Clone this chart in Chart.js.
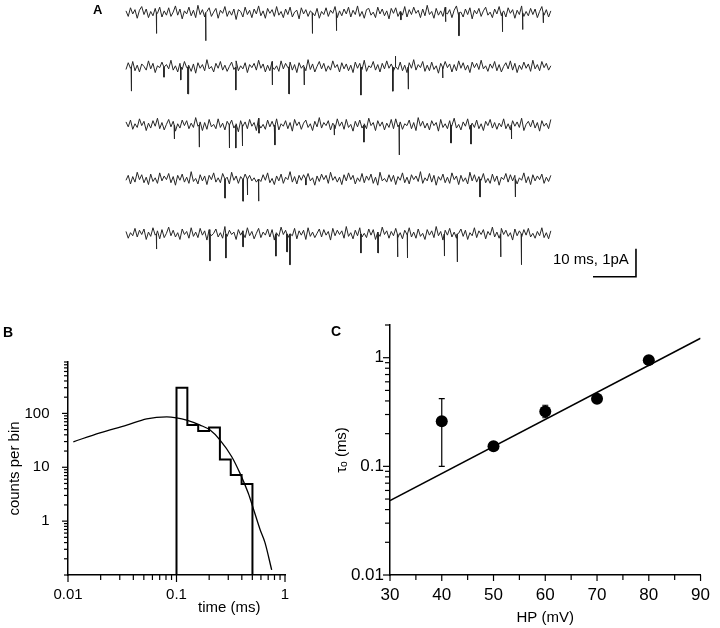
<!DOCTYPE html>
<html><head><meta charset="utf-8">
<script src="https://cdn.jsdelivr.net/npm/chart.js@4.4.1/dist/chart.umd.min.js"></script>
<style>
html,body{margin:0;padding:0;background:#fff;}
#wrap{position:relative;width:720px;height:628px;overflow:hidden;font-family:"Liberation Sans",Arial,sans-serif;color:#000;}
canvas{position:absolute;}
.lbl{position:absolute;white-space:nowrap;}
.pl{font-weight:bold;font-size:14px;line-height:14px;}
</style></head><body>
<div id="wrap">
<canvas id="cA" width="720" height="290" style="left:0;top:0;width:720px;height:290px"></canvas>
<canvas id="cB" width="330" height="328" style="left:0;top:300px;width:330px;height:328px"></canvas>
<canvas id="cC" width="390" height="328" style="left:330px;top:300px;width:390px;height:328px"></canvas>
<div class="lbl pl" style="left:93px;top:3px;font-size:13px">A</div>
<div class="lbl pl" style="left:3px;top:325px">B</div>
<div class="lbl pl" style="left:331px;top:324px">C</div>
<div class="lbl" style="left:553px;top:250px;font-size:15px;line-height:18px">10 ms, 1pA</div>
<div class="lbl" style="left:198px;top:598px;font-size:15px;line-height:18px">time (ms)</div>
</div>
<script>
// ---------------- Panel A data (single-channel traces) ----------------
const traceDurationMs = 98.8;
const noiseUnitPA = 0.022;           // noise values below are in units of 0.022 pA
const openDurMs = 0.1;               // width of each idealised opening
const traceOffsetsPA = [0, -1.94, -4.01, -5.94, -7.90];
const noise1 = [3,-6,8,-2,5,-9,4,10,-3,6,-8,2,-5,7,-1,9,-7,3,-4,8,
-6,1,11,-4,6,-10,3,-2,9,-5,4,-8,12,-3,5,-7,2,8,-6,1,
7,-9,4,-1,10,-6,3,-4,6,-11,5,2,-7,9,-3,4,-8,6,-2,11,
-5,3,-9,7,-1,5,-6,10,-4,2,-8,6,-3,9,-7,1,4,-10,8,-2,
5,-6,3,12,-5,7,-9,2,-3,8,-6,4,-1,10,-8,3,-5,6,-2,9,
-7,4,-3,11,-6,2,-9,5,7,-4,1,-8,9,-2,6,-5,3,-10,7,-1,
8,-6,2,-4,10,-7,5,-3,9,-1,4,-8,6,-5,12,-3,2,-9,7,-4,
3,-6,9,-2,5,-8,4,11,-5,1,-7,6,-3,8,-10,4,-2,7,-6,3,
9,-4,1,-8,6,-2,10,-5,3,-7,8,-1,5,-9,4,-3,11,-6,2,-5,
7,-3,6,-8,2,10,-4,5,-7,3];
const noise2 = [-4,7,-2,9,-6,3,-8,5,1,-5,10,-3,6,-9,2,-1,8,-7,4,-3,
11,-5,2,-8,6,-4,9,-1,3,-7,5,-10,7,-2,4,-6,12,-3,1,-8,
6,-2,9,-5,3,-7,1,8,-4,10,-6,2,-3,7,-9,4,-1,6,-5,11,
-2,5,-8,3,-6,9,-4,2,-7,10,-3,6,-1,8,-5,4,-9,7,-2,3,
-6,12,-4,5,-8,1,9,-3,6,-7,2,-5,10,-1,4,-8,7,-3,5,-6,
3,-9,8,-2,6,-4,11,-7,2,-1,9,-5,4,-8,6,-3,10,-2,5,-7,
1,-4,8,-6,3,-9,7,-2,12,-5,4,-1,9,-7,3,-6,8,-4,2,-10,
6,-3,9,-1,5,-8,4,-6,10,-2,7,-5,3,-9,8,-1,6,-4,11,-3,
2,-7,5,-2,9,-6,4,-8,1,7,-3,10,-5,6,-9,3,-4,8,-2,5,
-7,11,-3,4,-6,9,-1,6,-5,2];
const noise3 = [5,-3,8,-7,2,-4,10,-1,6,-9,3,-5,7,-2,11,-6,4,-8,1,9,
-3,6,-10,2,-5,8,-1,7,-6,3,-4,12,-2,5,-9,4,-7,9,-3,1,
-6,10,-4,3,-8,6,-1,8,-5,2,-11,7,-3,5,-6,9,-2,4,-9,11,
-5,1,-7,8,-3,6,-4,10,-8,2,-2,7,-6,4,-10,9,-1,5,-7,3,
8,-4,2,-9,6,-3,12,-5,4,-1,7,-8,3,-6,10,-2,5,-7,9,-4,
1,-10,6,-3,8,-5,2,-6,11,-1,4,-9,7,-2,5,-8,3,-4,9,-6,
10,-3,5,-7,2,-1,8,-6,4,-9,12,-2,6,-5,3,-8,7,-1,4,-10,
9,-4,2,-6,7,-3,11,-5,1,-8,5,-2,10,-7,3,-4,8,-6,2,-9,
6,-1,9,-5,4,-7,3,-3,10,-6,2,-8,7,-2,5,-4,11,-9,1,6,
-3,8,-5,4,-10,7,-2,3,-6,9];
const noise4 = [-2,6,-8,4,-5,11,-1,7,-6,3,-9,8,-4,2,-7,10,-3,5,-1,9,
-6,4,-10,6,-2,8,-5,3,-7,12,-4,1,-8,7,-3,5,-9,6,-1,10,
-5,2,-6,9,-4,3,-8,11,-2,5,-7,4,-1,8,-10,6,-3,2,-5,9,
-4,7,-2,10,-6,1,-9,5,-3,8,-7,3,-1,12,-5,4,-8,6,-2,7,
-6,9,-3,2,-10,5,-4,8,-1,6,-7,11,-2,4,-5,3,-9,7,-3,10,
-1,6,-8,2,-4,9,-6,5,-2,8,-7,3,-10,11,-3,1,-5,7,-4,6,
-9,4,-2,10,-6,3,-8,7,-1,5,-4,12,-7,2,-3,9,-5,6,-10,4,
-2,8,-6,3,-7,10,-1,5,-9,6,-4,2,-8,11,-3,7,-5,4,-2,9,
-6,1,-7,8,-4,5,-10,3,-1,9,-5,7,-3,6,-8,2,-2,10,-6,4,
-9,7,-3,5,-1,8,-7,3,-4,6];
const noise5 = [4,-7,2,-3,9,-5,6,-1,8,-9,3,-4,10,-2,5,-8,7,-6,1,11,
-3,6,-5,2,-9,8,-1,4,-7,10,-4,3,-6,9,-2,5,-10,7,-3,1,
8,-5,2,-7,12,-4,6,-1,3,-9,7,-2,5,-6,10,-3,4,-8,1,9,
-6,3,-2,8,-5,7,-10,2,-4,11,-1,6,-7,4,-3,9,-8,5,-2,6,
-9,10,-4,3,-6,1,8,-5,7,-2,4,-10,9,-3,6,-1,5,-7,12,-4,
2,-8,6,-3,10,-5,1,-6,8,-2,7,-9,3,-4,11,-1,5,-7,4,-3,
9,-6,2,-8,6,-1,10,-5,3,-7,8,-4,1,-9,7,-2,5,-6,12,-3,
4,-10,6,-2,9,-5,3,-7,1,8,-4,6,-9,2,-3,10,-6,5,-1,7,
-8,4,-2,11,-5,3,-7,9,-1,6,-4,2,-10,8,-3,5,-6,7,-2,9,
-5,1,-7,4,-3,10,-6,2,-8,5];
// openings: [time (ms), amplitude (pA, downward)]
const openings1 = [[7.05,0.74],[18.5,1.0],[43.3,0.74],[48.9,0.64],[63.9,0.25],[74.3,0.32],[77.4,0.82],[87.5,0.68],[92.2,0.6],[97.0,0.36]];
const openings2 = [[1.2,0.86],[8.8,0.36],[12.7,0.46],[14.4,0.96],[25.5,0.82],[34.0,0.64],[37.9,0.96],[41.4,0.64],[54.6,1.0],[62.0,0.86],[62.6,-0.39],[65.6,0.79],[73.6,0.39]];
const openings3 = [[11.2,0.5],[17.0,0.79],[24.0,0.82],[25.5,0.82],[27.0,0.75],[30.9,0.29],[34.6,0.71],[48.4,0.36],[55.3,0.61],[63.5,1.07],[75.5,0.64],[80.2,0.68],[89.6,0.5]];
const openings4 = [[23.0,0.68],[27.2,0.79],[28.2,0.57],[30.8,0.79],[41.8,0.21],[82.3,0.64],[90.5,0.64]];
const openings5 = [[7.05,0.54],[19.5,0.96],[23.2,0.86],[27.2,0.46],[34.8,0.79],[37.4,0.64],[38.1,1.1],[54.6,0.68],[58.6,0.68],[63.1,0.82],[65.4,0.86],[74.0,0.79],[77.0,1.0],[87.1,0.82],[91.9,1.1]];
const scaleBarMs = 10, scaleBarPA = 1;
const scaleBarCorner = [118.6, -9.43];   // [ms, pA]

// ---------------- Panel B data (open-time histogram) ----------------
const binEdgesMs = [0.1, 0.1259, 0.1585, 0.1995, 0.2512, 0.3162, 0.3981, 0.5012];
const binCounts = [300, 61, 47, 55, 14, 7.2, 4.9];
const fitTimeMs = [0.0112, 0.0197, 0.0348, 0.0531, 0.0813, 0.1, 0.124, 0.165, 0.204, 0.252, 0.323, 0.385, 0.459, 0.511, 0.589, 0.654, 0.754];
const fitCounts = [29.7, 43.6, 60.7, 79.4, 86.5, 82.8, 75.1, 60.7, 49, 32, 15.7, 7.7, 3.28, 1.7, 0.70, 0.40, 0.124];
const bXTicks = [0.01,0.02,0.03,0.04,0.05,0.06,0.07,0.08,0.09,0.1,0.2,0.3,0.4,0.5,0.6,0.7,0.8,0.9,1];
const bXLabels = [0.01, 0.1, 1];
const bYTicks = [0.1,0.2,0.3,0.4,0.5,0.6,0.7,0.8,0.9,1,2,3,4,5,6,7,8,9,10,20,30,40,50,60,70,80,90,100,200,300,400,500,600,700,800,900];
const bYLabels = [1, 10, 100];

// ---------------- Panel C data (tau_o vs holding potential) ----------------
const hpMv = [40, 50, 60, 70, 80];
const tauMs = [0.26, 0.153, 0.32, 0.42, 0.95];
const tauLow = [0.10, null, 0.28, null, null];
const tauHigh = [0.42, null, 0.365, null, null];
const fitHpMv = [30, 90];
const fitTauMs = [0.0483, 1.51];
const cXTicks = [30,35,40,45,50,55,60,65,70,75,80,85,90];
const cXLabels = [30,40,50,60,70,80,90];
const cYTicks = [0.01,0.02,0.03,0.04,0.05,0.06,0.07,0.08,0.09,0.1,0.2,0.3,0.4,0.5,0.6,0.7,0.8,0.9,1,2];
const cYLabels = [0.01, 0.1, 1];

Chart.defaults.font.family = "'Liberation Sans', Arial, sans-serif";
Chart.defaults.color = '#000';
Chart.defaults.animation = false;

// ---- Panel A ----
const noises = [noise1, noise2, noise3, noise4, noise5];
const openings = [openings1, openings2, openings3, openings4, openings5];
function buildTrace(noise, opens, offset) {
  const dt = traceDurationMs / (noise.length - 1);
  let pts = noise.map((v, i) => ({x: i * dt, y: offset + v * noiseUnitPA}));
  pts = pts.filter(p => !opens.some(([t]) => p.x >= t && p.x <= t + openDurMs));
  opens.forEach(([t, a]) => {
    pts.push({x: t, y: offset}, {x: t, y: offset - a}, {x: t + openDurMs, y: offset - a}, {x: t + openDurMs, y: offset});
  });
  pts.sort((p, q) => p.x - q.x);
  return pts;
}
const aSets = noises.map((n, k) => ({
  data: buildTrace(n, openings[k], traceOffsetsPA[k]),
  borderColor: '#262626', borderWidth: 1, pointRadius: 0, tension: 0
}));
aSets.push({
  data: [{x: scaleBarCorner[0] - scaleBarMs, y: scaleBarCorner[1]}, {x: scaleBarCorner[0], y: scaleBarCorner[1]}, {x: scaleBarCorner[0], y: scaleBarCorner[1] + scaleBarPA}],
  borderColor: '#000', borderWidth: 1.6, pointRadius: 0
});
new Chart(document.getElementById('cA'), {
  type: 'line',
  data: {datasets: aSets},
  options: {
    responsive: false, parsing: false,
    layout: {padding: 0},
    plugins: {legend: {display: false}, tooltip: {enabled: false}},
    scales: {
      x: {type: 'linear', display: false, min: -29.3, max: 138.14},
      y: {type: 'linear', display: false, min: -9.903, max: 0.454}
    }
  }
});

// ---- shared helpers ----
const tickMarks = {
  id: 'tickMarks',
  afterDraw(chart, args, opts) {
    const ctx = chart.ctx;
    ctx.save(); ctx.strokeStyle = '#000'; ctx.lineWidth = 1.2;
    ['x', 'y'].forEach(id => {
      const s = chart.scales[id], o = opts[id];
      s.ticks.forEach(t => {
        const len = t.major ? o.major : o.minor;
        const p = s.getPixelForValue(t.value);
        ctx.beginPath();
        if (s.isHorizontal()) { ctx.moveTo(p, s.top); ctx.lineTo(p, s.top + len); }
        else { ctx.moveTo(s.right, p); ctx.lineTo(s.right - len, p); }
        ctx.stroke();
      });
    });
    ctx.restore();
  }
};
function tickSetter(vals, labeled) {
  return s => { s.ticks = vals.map(v => ({value: v, major: labeled.includes(v)})); };
}
function labeler(labeled) {
  return v => labeled.includes(v) ? String(v) : '';
}

// ---- Panel B ----
const bYMin = 0.1;
const histPts = [{x: binEdgesMs[0], y: bYMin}]
  .concat(binCounts.map((c, i) => ({x: binEdgesMs[i], y: c})))
  .concat([{x: binEdgesMs[binEdgesMs.length - 1], y: bYMin}]);
new Chart(document.getElementById('cB'), {
  type: 'line',
  data: {datasets: [
    {data: histPts, stepped: 'before', borderColor: '#000', borderWidth: 2, pointRadius: 0, clip: false},
    {data: fitTimeMs.map((t, i) => ({x: t, y: fitCounts[i]})), borderColor: '#000', borderWidth: 1.3, pointRadius: 0, cubicInterpolationMode: 'monotone', clip: false}
  ]},
  options: {
    responsive: false, parsing: false,
    layout: {padding: {left: 0, top: 62, right: 45, bottom: 0}},
    plugins: {legend: {display: false}, tooltip: {enabled: false},
      tickMarks: {x: {major: 7, minor: 5}, y: {major: 6, minor: 4}}},
    scales: {
      x: {type: 'logarithmic', min: 0.01, max: 1,
        grid: {display: false, drawTicks: false},
        border: {display: true, color: '#000', width: 1.5},
        ticks: {autoSkip: false, maxRotation: 0, padding: 11, font: {size: 15}, callback: labeler(bXLabels)},
        afterBuildTicks: tickSetter(bXTicks, bXLabels),
        afterFit: s => { s.height = 53; }},
      y: {type: 'logarithmic', min: bYMin, max: 900,
        grid: {display: false, drawTicks: false},
        border: {display: true, color: '#000', width: 1.5},
        ticks: {autoSkip: false, padding: 18.5, font: {size: 15}, callback: labeler(bYLabels)},
        title: {display: true, text: 'counts per bin', font: {size: 15}, padding: {top: 6, bottom: 0}},
        afterBuildTicks: tickSetter(bYTicks, bYLabels),
        afterFit: s => { s.width = 68; }}
    }
  },
  plugins: [tickMarks]
});

// ---- Panel C ----
const errorBars = {
  id: 'errorBars',
  beforeDatasetsDraw(chart) {
    const ctx = chart.ctx, xs = chart.scales.x, ys = chart.scales.y;
    ctx.save(); ctx.strokeStyle = '#000'; ctx.lineWidth = 1.2;
    hpMv.forEach((hp, i) => {
      if (tauLow[i] == null) return;
      const px = xs.getPixelForValue(hp), lo = ys.getPixelForValue(tauLow[i]), hi = ys.getPixelForValue(tauHigh[i]);
      ctx.beginPath();
      ctx.moveTo(px, lo); ctx.lineTo(px, hi);
      ctx.moveTo(px - 3, lo); ctx.lineTo(px + 3, lo);
      ctx.moveTo(px - 3, hi); ctx.lineTo(px + 3, hi);
      ctx.stroke();
    });
    ctx.restore();
  }
};
new Chart(document.getElementById('cC'), {
  type: 'scatter',
  data: {datasets: [
    {data: fitHpMv.map((h, i) => ({x: h, y: fitTauMs[i]})), showLine: true, borderColor: '#000', borderWidth: 1.5, pointRadius: 0},
    {data: hpMv.map((h, i) => ({x: h, y: tauMs[i]})), showLine: false, pointRadius: 6, pointBackgroundColor: '#000', pointBorderColor: '#000', borderWidth: 0}
  ]},
  options: {
    responsive: false, parsing: false,
    layout: {padding: {left: 0, top: 25, right: 10, bottom: 0}},
    plugins: {legend: {display: false}, tooltip: {enabled: false},
      tickMarks: {x: {major: 6, minor: 5}, y: {major: 7, minor: 5}}},
    scales: {
      x: {type: 'linear', min: 30, max: 90,
        grid: {display: false, drawTicks: false},
        border: {display: true, color: '#000', width: 1.5},
        ticks: {autoSkip: false, maxRotation: 0, padding: 10, font: {size: 17}, callback: labeler(cXLabels)},
        title: {display: true, text: 'HP (mV)', font: {size: 15}, padding: {top: 0, bottom: 1}},
        afterBuildTicks: tickSetter(cXTicks, cXLabels),
        afterFit: s => { s.height = 53; }},
      y: {type: 'logarithmic', min: 0.01, max: 2,
        grid: {display: false, drawTicks: false},
        border: {display: true, color: '#000', width: 1.5},
        ticks: {autoSkip: false, padding: 6, font: {size: 17}, callback: labeler(cYLabels)},
        title: {display: true, text: 'τₒ (ms)', font: {size: 15}, padding: {top: 3, bottom: 0}},
        afterBuildTicks: tickSetter(cYTicks, cYLabels),
        afterFit: s => { s.width = 60; }}
    }
  },
  plugins: [tickMarks, errorBars]
});
</script>
</body></html>
